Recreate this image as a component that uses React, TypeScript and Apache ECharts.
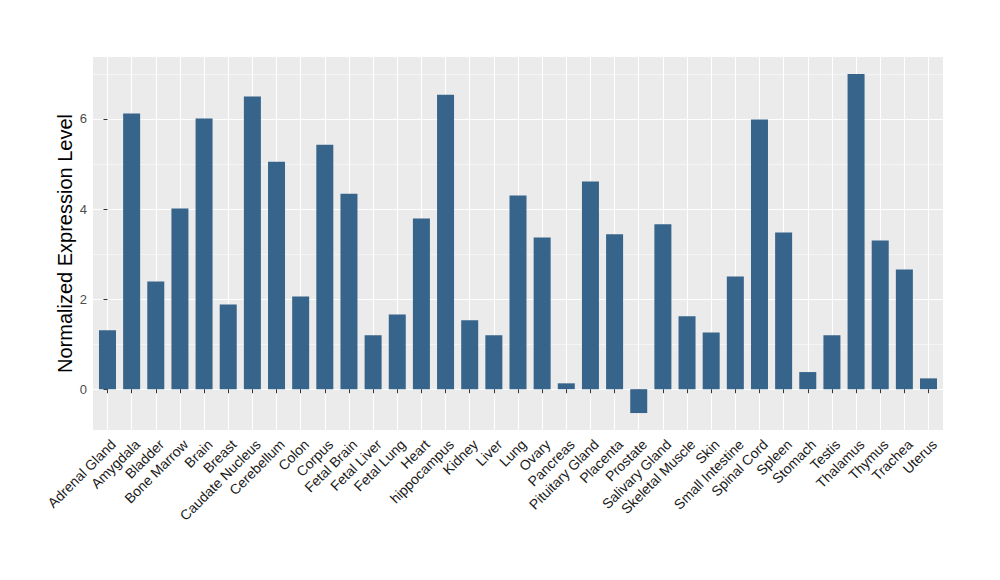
import React, { useEffect, useRef } from "react";
import * as echarts from "echarts";

const categories = [
  "Adrenal Gland", "Amygdala", "Bladder", "Bone Marrow", "Brain", "Breast",
  "Caudate Nucleus", "Cerebellum", "Colon", "Corpus", "Fetal Brain", "Fetal Liver",
  "Fetal Lung", "Heart", "hippocampus", "Kidney", "Liver", "Lung", "Ovary",
  "Pancreas", "Pituitary Gland", "Placenta", "Prostate", "Salivary Gland",
  "Skeletal Muscle", "Skin", "Small Intestine", "Spinal Cord", "Spleen", "Stomach",
  "Testis", "Thalamus", "Thymus", "Trachea", "Uterus",
];

const values = [
  1.31, 6.12, 2.39, 4.01, 6.01, 1.88,
  6.50, 5.05, 2.06, 5.43, 4.34, 1.20,
  1.66, 3.79, 6.54, 1.53, 1.20, 4.30, 3.37,
  0.13, 4.61, 3.44, -0.53, 3.66,
  1.62, 1.26, 2.50, 5.99, 3.48, 0.38,
  1.20, 7.00, 3.30, 2.66, 0.24,
];

const yTicks = [0, 2, 4, 6];
const yMin = -0.9065;
const yMax = 7.3765;

export default function App() {
  const ref = useRef<HTMLDivElement>(null);
  useEffect(() => {
    const chart = echarts.init(ref.current!, null, { renderer: "svg" });
    const font = "'Liberation Sans', Arial, Helvetica, sans-serif";
    const idx = categories.map((_, i) => i);
    const n = categories.length;
    const labelShift = 0.24;
    chart.setOption({
      animation: false,
      backgroundColor: "#ffffff",
      grid: {
        left: 93,
        right: 57,
        top: 57,
        bottom: 150,
        show: true,
        backgroundColor: "#EBEBEB",
        borderWidth: 0,
      },
      xAxis: [
        {
          type: "value",
          position: "bottom",
          min: -0.6,
          max: n - 0.4,
          axisLine: { show: false },
          axisTick: {
            show: true,
            customValues: idx,
            length: 4,
            lineStyle: { color: "#333333", width: 1 },
          },
          axisLabel: { show: false, customValues: idx },
          splitLine: { show: true, lineStyle: { color: "#ffffff", width: 1.1 } },
        },
        {
          type: "value",
          position: "bottom",
          min: -0.6 - labelShift,
          max: n - 0.4 - labelShift,
          axisLine: { show: false },
          axisTick: { show: false, customValues: idx },
          splitLine: { show: false },
          axisLabel: {
            show: true,
            customValues: idx,
            rotate: 45,
            margin: 12,
            fontSize: 14,
            color: "#1a1a1a",
            fontFamily: font,
            formatter: (v: number) => categories[Math.round(v)] ?? "",
          },
        },
      ],
      yAxis: {
        type: "value",
        min: yMin,
        max: yMax,
        axisLine: { show: false },
        axisTick: {
          show: true,
          customValues: yTicks,
          length: 4,
          lineStyle: { color: "#333333", width: 1 },
        },
        axisLabel: {
          customValues: yTicks,
          color: "#4d4d4d",
          fontSize: 13,
          margin: 6,
          fontFamily: font,
        },
        splitLine: { show: true, lineStyle: { color: "#ffffff", width: 1.1 } },
        minorTick: { show: false, splitNumber: 2 },
        minorSplitLine: { show: true, lineStyle: { color: "#ffffff", width: 0.5 } },
        name: "Normalized Expression Level",
        nameLocation: "middle",
        nameGap: 18,
        nameMoveOverlap: false,
        nameTextStyle: { fontSize: 20, color: "#000000", fontFamily: font },
      },
      series: [
        {
          type: "bar",
          xAxisIndex: 0,
          yAxisIndex: 0,
          barWidth: 17,
          itemStyle: { color: "#36648B" },
          data: idx.map((i) => [i, values[i]]),
        },
      ],
    });
    return () => chart.dispose();
  }, []);
  return (
    <div
      ref={ref}
      style={{ position: "fixed", left: 0, top: 0, width: 1000, height: 580 }}
    />
  );
}
